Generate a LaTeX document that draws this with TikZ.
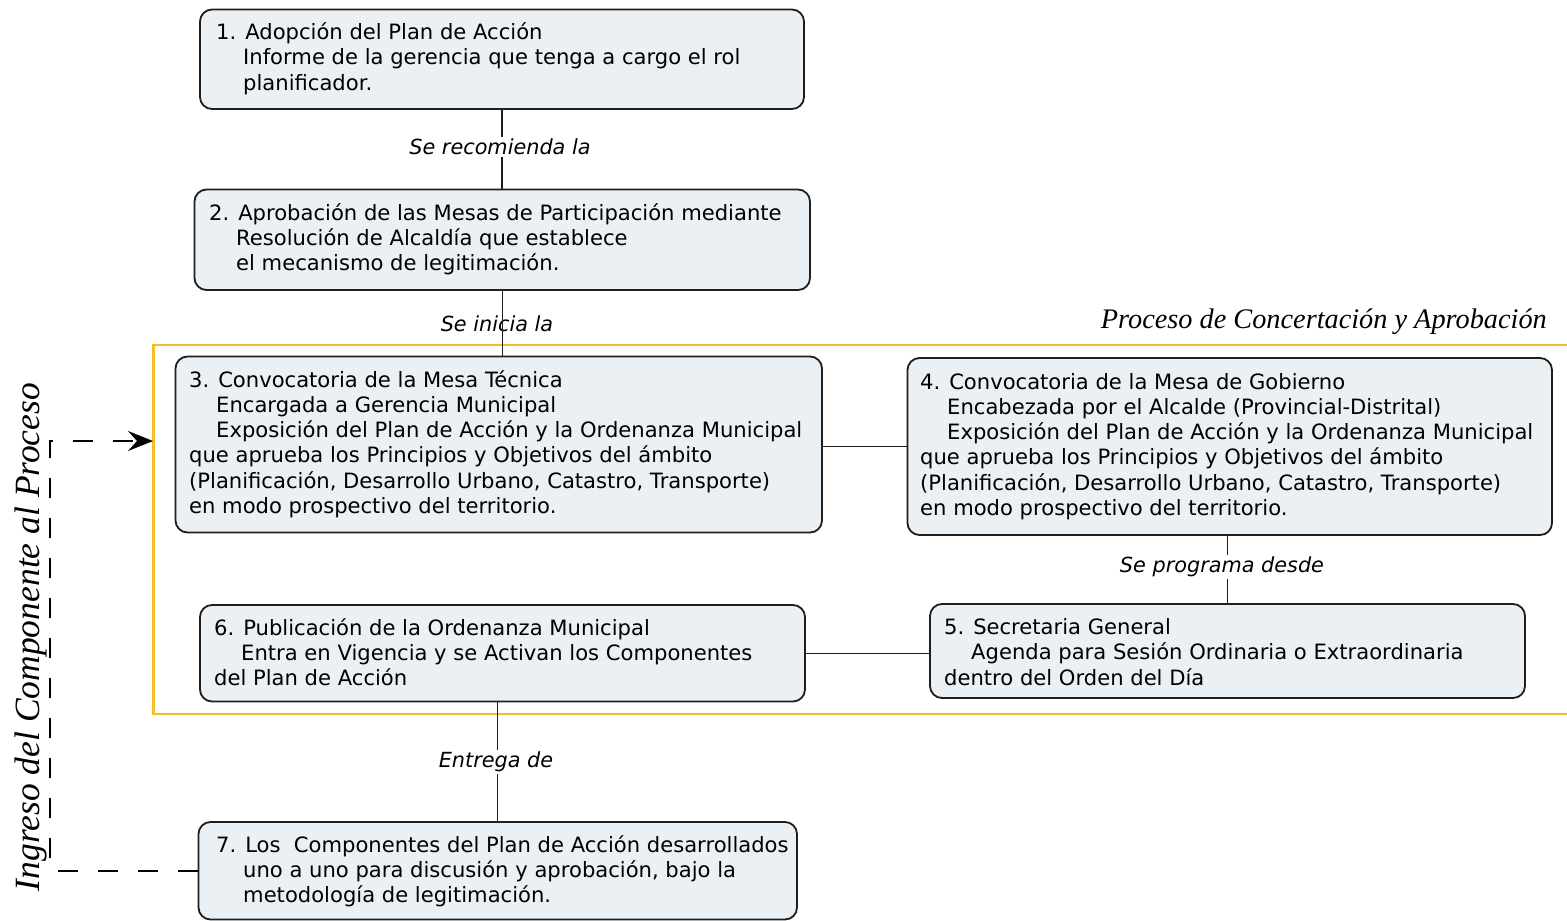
\documentclass[tikz,border=0pt]{standalone}
\usepackage{fontspec}
\setmainfont{DejaVu Sans}
\newfontfamily\serifit{Liberation Serif}
\usetikzlibrary{arrows.meta}
\definecolor{boxfill}{HTML}{EAF0F3}
\definecolor{boxline}{HTML}{1E1E1E}
\definecolor{gold}{HTML}{F2BF26}
\newcommand{\ind}{\hspace*{27pt}}
\newcommand{\boxlines}[1]{\begin{tabular}[t]{@{}l@{}}#1\end{tabular}}
\begin{document}
\begin{tikzpicture}[x=1pt,y=-1pt,
  box/.style={draw=boxline, fill=boxfill, line width=1.8pt, rounded corners=12pt, rectangle, inner sep=0pt},
  txt/.style={anchor=base west, inner sep=0pt, font=\fontsize{21.1}{25.3}\selectfont},
  lab/.style={inner sep=2pt, font=\fontsize{20.8}{22}\selectfont\itshape},
  conn/.style={line width=1.4pt, draw=boxline},
  frame/.style={draw=gold, line width=2.8pt},
  back/.style={draw=black, line width=2.4pt, dash pattern=on 20pt off 20pt},
  ttl/.style={inner sep=0pt, font=\fontsize{28.3}{30}\selectfont\serifit\itshape}]
\useasboundingbox (0,0) rectangle (1567,921);
\fill[white] (0,0) rectangle (1567,921);

% frame of the concertation process
\draw[frame] (153.5,345) rectangle (1580,714);
\node[ttl, anchor=base east] (title) at (1547,328) {Proceso de Concertación y Aprobación};

% boxes
\node[box, minimum width=604pt, minimum height=99.5pt] (b1) at (502,59.25) {};
\node[box, minimum width=615.5pt, minimum height=100.5pt] (b2) at (502.25,239.75) {};
\node[box, minimum width=646.5pt, minimum height=176pt] (b3) at (498.75,444.5) {};
\node[box, minimum width=644.5pt, minimum height=177pt] (b4) at (1229.75,446.5) {};
\node[box, minimum width=595pt, minimum height=94pt] (b5) at (1227.5,651) {};
\node[box, minimum width=605pt, minimum height=96.5pt] (b6) at (502.5,653.25) {};
\node[box, minimum width=598.5pt, minimum height=97.5pt] (b7) at (497.75,870.75) {};

% texts
\node[txt] (t1) at (216,39.5) {\boxlines{1. Adopción del Plan de Acción\\
\ind Informe de la gerencia que tenga a cargo el rol\\
\ind planificador.}};
\node[txt] (t2) at (209,220) {\boxlines{2. Aprobación de las Mesas de Participación mediante\\
\ind Resolución de Alcaldía que establece\\
\ind el mecanismo de legitimación.}};
\node[txt] (t3) at (189,387) {\boxlines{3. Convocatoria de la Mesa Técnica\\
\ind Encargada a Gerencia Municipal\\
\ind Exposición del Plan de Acción y la Ordenanza Municipal\\
que aprueba los Principios y Objetivos del ámbito\\
(Planificación, Desarrollo Urbano, Catastro, Transporte)\\
en modo prospectivo del territorio.}};
\node[txt] (t4) at (920,389) {\boxlines{4. Convocatoria de la Mesa de Gobierno\\
\ind Encabezada por el Alcalde (Provincial-Distrital)\\
\ind Exposición del Plan de Acción y la Ordenanza Municipal\\
que aprueba los Principios y Objetivos del ámbito\\
(Planificación, Desarrollo Urbano, Catastro, Transporte)\\
en modo prospectivo del territorio.}};
\node[txt] (t5) at (944,634.5) {\boxlines{5. Secretaria General\\
\ind Agenda para Sesión Ordinaria o Extraordinaria\\
dentro del Orden del Día}};
\node[txt] (t6) at (214,635) {\boxlines{6. Publicación de la Ordenanza Municipal\\
\ind Entra en Vigencia y se Activan los Componentes\\
del Plan de Acción}};
\node[txt] (t7) at (216,852) {\boxlines{7. Los\ \ Componentes del Plan de Acción desarrollados\\
\ind uno a uno para discusión y aprobación, bajo la\\
\ind metodología de legitimación.}};

% connector labels
\node[lab] (l12) at (500,147) {Se recomienda la};
\node[lab] (l23) at (497,324) {Se inicia la};
\node[lab] (l45) at (1222,567) {Se programa desde};
\node[lab] (l67) at (496,762) {Entrega de};

% connectors
\draw[conn] (b1.south) -- (b1.south |- l12.north);
\draw[conn] (b1.south |- l12.south) -- (b2.north -| b1.south);
\draw[conn] (b2.south) -- (b2.south |- b3.north);
\draw[conn] (b3.east |- b4.west) -- (b4.west);
\draw[conn] (b5.north |- b4.south) -- (b5.north |- l45.north);
\draw[conn] (b5.north |- l45.south) -- (b5.north);
\draw[conn] (b6.east) -- (b6.east -| b5.west);
\draw[conn] (b7.north |- b6.south) -- (b7.north |- l67.north);
\draw[conn] (b7.north |- l67.south) -- (b7.north);

% return path
\coordinate (corner) at (50,441);
\coordinate (entry) at (153,441);
\draw[back, -{Stealth[length=25pt,width=20pt,inset=9pt]}] (b7.west) -| (corner) -- (entry);
\node[ttl, font=\fontsize{35.5}{38}\selectfont\serifit\itshape, rotate=90, anchor=base] (side) at (39,637) {Ingreso del Componente al Proceso};
\end{tikzpicture}
\end{document}
